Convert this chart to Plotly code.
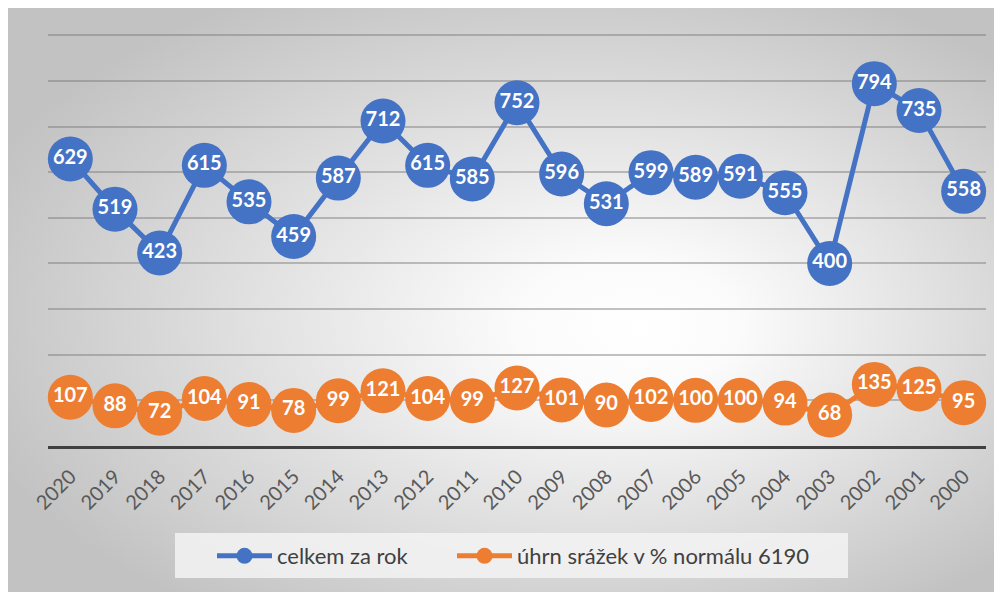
import base64
import plotly.graph_objects as go

years = ["2020", "2019", "2018", "2017", "2016", "2015", "2014", "2013", "2012", "2011",
         "2010", "2009", "2008", "2007", "2006", "2005", "2004", "2003", "2002", "2001", "2000"]
celkem = [629, 519, 423, 615, 535, 459, 587, 712, 615, 585, 752, 596, 531, 599, 589, 591,
          555, 400, 794, 735, 558]
uhrn = [107, 88, 72, 104, 91, 78, 99, 121, 104, 99, 127, 101, 90, 102, 100, 100, 94, 68,
        135, 125, 95]
series_names = ["celkem za rok", "úhrn srážek v % normálu 6190"]

BLUE = "#4472C4"
ORANGE = "#ED7D31"
FONT = "Lato"

W, H = 994, 584
L, R, T, B = 40, 16, 25, 146
pw = W - L - R
ph = H - T - B


def px(xp):
    return (xp - L) / pw


def py(yp):
    return (H - B - yp) / ph


svg = (
    f'<svg xmlns="http://www.w3.org/2000/svg" width="{W}" height="{H}" '
    f'viewBox="0 0 {W} {H}" preserveAspectRatio="none">'
    '<defs><radialGradient id="g" cx="0.55" cy="0.52" r="0.62" fx="0.64" fy="0.55">'
    '<stop offset="0" stop-color="#ffffff"/>'
    '<stop offset="0.18" stop-color="#fbfbfb"/>'
    '<stop offset="1" stop-color="#c2c2c2"/>'
    '</radialGradient></defs>'
    f'<rect x="0" y="0" width="{W}" height="{H}" fill="url(#g)"/></svg>'
)
svg_uri = "data:image/svg+xml;base64," + base64.b64encode(svg.encode()).decode()

fig = go.Figure()
for vals, name, col, lg in [(celkem, series_names[0], BLUE, "legend"),
                            (uhrn, series_names[1], ORANGE, "legend2")]:
    fig.add_trace(go.Scatter(
        x=years, y=vals, name=name, mode="lines+markers+text",
        line=dict(color=col, width=5),
        marker=dict(color=col, size=45, line=dict(width=0)),
        text=[str(v) for v in vals], textposition="middle center",
        textfont=dict(family=FONT, size=20, color="white", weight="bold"),
        cliponaxis=False, legend=lg,
        hoverinfo="x+y",
    ))

fig.add_layout_image(dict(
    source=svg_uri, xref="paper", yref="paper",
    x=px(0), y=py(0), sizex=W / pw, sizey=H / ph,
    xanchor="left", yanchor="top", sizing="stretch", layer="below",
))

# legend background box
fig.add_shape(type="rect", xref="paper", yref="paper",
              x0=px(167), x1=px(840), y0=py(570), y1=py(525),
              fillcolor="rgba(243,243,243,0.85)", line=dict(width=0), layer="below")

leg_common = dict(
    orientation="h", yanchor="middle", y=py(548), xanchor="left",
    bgcolor="rgba(0,0,0,0)", font=dict(family=FONT, size=22, color="#404040"),
    itemsizing="trace", itemwidth=55,
)

fig.update_layout(
    width=W, height=H,
    margin=dict(l=L, r=R, t=T, b=B, autoexpand=False),
    paper_bgcolor="white", plot_bgcolor="rgba(0,0,0,0)",
    font=dict(family=FONT, color="#595959"),
    showlegend=True,
    legend=dict(x=px(204), **leg_common),
    legend2=dict(x=px(444), **leg_common),
    xaxis=dict(
        type="category", range=[-0.5, len(years) - 0.5], automargin=False,
        showgrid=False, showline=True, linecolor="#404040", linewidth=3,
        ticks="", tickangle=-45, ticklabelstandoff=8,
        tickfont=dict(family=FONT, size=20, color="#595959"),
    ),
    yaxis=dict(
        automargin=False,
        range=[0, 905], dtick=100, showgrid=True, gridcolor="rgba(120,120,120,0.45)",
        gridwidth=2, zeroline=False, showticklabels=False, showline=False, ticks="",
    ),
)

fig.write_html("out.html")
